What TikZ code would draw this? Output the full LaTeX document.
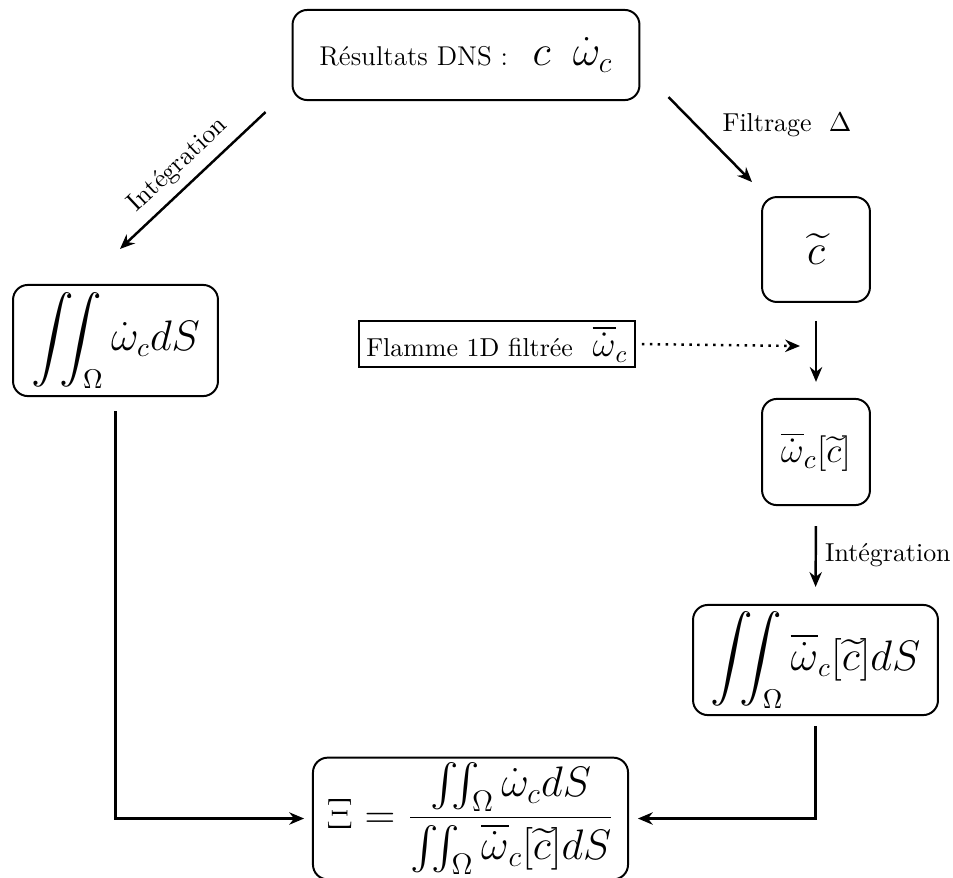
\documentclass[tikz,border=0pt]{standalone}
\usepackage{amsmath}
\usetikzlibrary{arrows.meta}
\newcommand\mysz{\fontsize{16}{19}\selectfont}
\newcommand\mysm{\fontsize{15.5}{18}\selectfont}
\begin{document}
\begin{tikzpicture}[x=0.405pt,y=-0.405pt,
 every node/.style={font=\fontsize{10.5}{12.6}\selectfont},
 box/.style={draw, line width=0.8pt, rounded corners=6pt, inner sep=2pt, align=center},
 sqbox/.style={draw, line width=0.8pt, inner xsep=3pt, inner ysep=2pt},
 arr/.style={line width=1pt, -{Stealth[length=6pt,width=5pt]}},
 dotline/.style={line width=1pt, dash pattern=on 1pt off 2.2pt, -{Stealth[length=6pt,width=5pt]}}]
\useasboundingbox (0,0) rectangle (953,877);
\node[box, minimum width=140.5pt, minimum height=36.5pt] (top) at (466,55) {\fontsize{11}{13}\selectfont Résultats DNS :\hspace{10pt}{\LARGE $c$\hspace{9pt}$\dot{\omega}_c$}};
\node[box, minimum width=83pt, minimum height=45pt] (left) at (115.5,340.5) {\mysz $\displaystyle\iint_\Omega \dot{\omega}_c dS$};
\node[box, minimum width=43.7pt, minimum height=42.5pt] (ct) at (816,249.5) {\LARGE $\widetilde{c}$};
\node[sqbox, minimum height=18.6pt, anchor=east] (flamme) at (636,344) {Flamme 1D filtrée\hspace{8pt}{\Large$\overline{\dot{\omega}}_c$}\hspace{4pt}};
\node[box, minimum width=43.7pt, minimum height=43pt] (om) at (816,452) {\mysm $\overline{\dot{\omega}}_c[\widetilde{c}]$};
\node[box, minimum width=99.2pt, minimum height=44.6pt] (rint) at (815.5,660) {\mysz $\displaystyle\iint_\Omega \overline{\dot{\omega}}_c[\widetilde{c}] dS$};
\node[box, minimum width=127.6pt, minimum height=44.1pt] (xi) at (470.5,818.5) {\LARGE $\displaystyle \Xi = \frac{\iint_\Omega \dot{\omega}_c dS}{\iint_\Omega \overline{\dot{\omega}}_c[\widetilde{c}] dS}$};
\draw[arr] ([shift={(-26,11)}]top.south west) -- node[sloped, above, midway] (lint) {Intégration} ([shift={(4.5,-35)}]left.north);
\draw[arr] ([shift={(28,-4)}]top.south east) -- ([shift={(-64,-14)}]ct.north);
\node (filt) at (787,125) {Filtrage\ \ $\Delta$};
\draw[arr, shorten <=7.3pt, shorten >=6.5pt] (ct.south) -- (om.north);
\coordinate (dotend) at (800,346);
\draw[dotline, shorten <=2.4pt] (flamme.east) -- (dotend);
\draw[arr, shorten <=8.1pt, shorten >=6.9pt] (om.south) -- node[right] (rlab) {Intégration} (rint.north);
\draw[arr, shorten <=5.7pt, shorten >=3.2pt] (left.south) |- (xi.west);
\draw[arr, shorten <=4pt, shorten >=3.6pt] (rint.south) |- (xi.east);
\end{tikzpicture}
\end{document}
